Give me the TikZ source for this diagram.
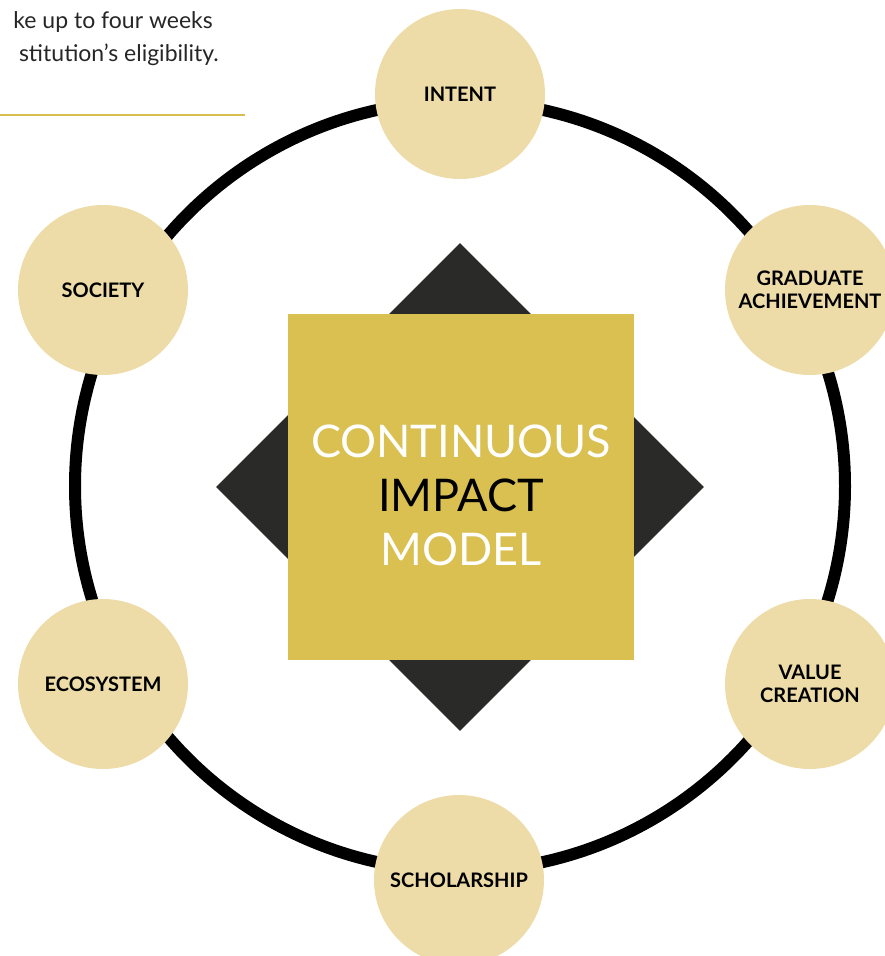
\documentclass[tikz,border=0pt]{standalone}
\usepackage{fontspec}
\usetikzlibrary{shapes.geometric}
\setmainfont{Lato}
\definecolor{circfill}{HTML}{EDDCA8}
\definecolor{sqfill}{HTML}{D9C051}
\definecolor{diafill}{HTML}{2A2A28}
\definecolor{goldline}{HTML}{D9BE4E}
\begin{document}
\begin{tikzpicture}[x=1pt,y=-1pt,
  topic/.style={circle,fill=circfill,minimum size=170pt,inner sep=0pt,align=center,text depth=0pt,
    font=\fontsize{20}{23}\selectfont\bfseries,text=black},
  centretext/.style={font=\fontsize{45}{54}\selectfont},
  sidetext/.style={anchor=base east,inner sep=0pt,font=\fontsize{23}{23}\selectfont,text=black!85},
  ringline/.style={line width=12pt,black}]
\useasboundingbox (0,0) rectangle (884,956);
% ring
\coordinate (c) at (460,486);
\draw[ringline] (c) circle[radius=385];
% diamond
\node[diamond,fill=diafill,minimum width=488pt,minimum height=488pt,inner sep=0pt,aspect=1] (dia) at (460,487) {};
% square
\node[fill=sqfill,minimum width=346pt,minimum height=346pt,inner sep=0pt] (sq) at (461,487) {};
\node[centretext,text=white] (t1) at (461,441) {CONTINUOUS};
\node[centretext,text=black] (t2) at (461,495) {IMPACT};
\node[centretext,text=white] (t3) at (461,549) {MODEL};
% topics
\node[topic] (intent) at (460,94) {INTENT};
\node[topic] (grad) at (810,290) {GRADUATE\\ACHIEVEMENT};
\node[topic] (value) at (810,684) {VALUE\\CREATION};
\node[topic] (schol) at (459,880) {SCHOLARSHIP};
\node[topic] (eco) at (103,684) {ECOSYSTEM};
\node[topic] (soc) at (103,290) {SOCIETY};
% top-left text
\node[sidetext] (l1) at (213,28) {ke up to four weeks};
\node[sidetext] (l2) at (219,61) {stitution’s eligibility.};
\coordinate (g1) at (0,115);
\coordinate (g2) at (245,115);
\draw[goldline,line width=2.5pt] (g1) -- (g2);
\end{tikzpicture}
\end{document}
